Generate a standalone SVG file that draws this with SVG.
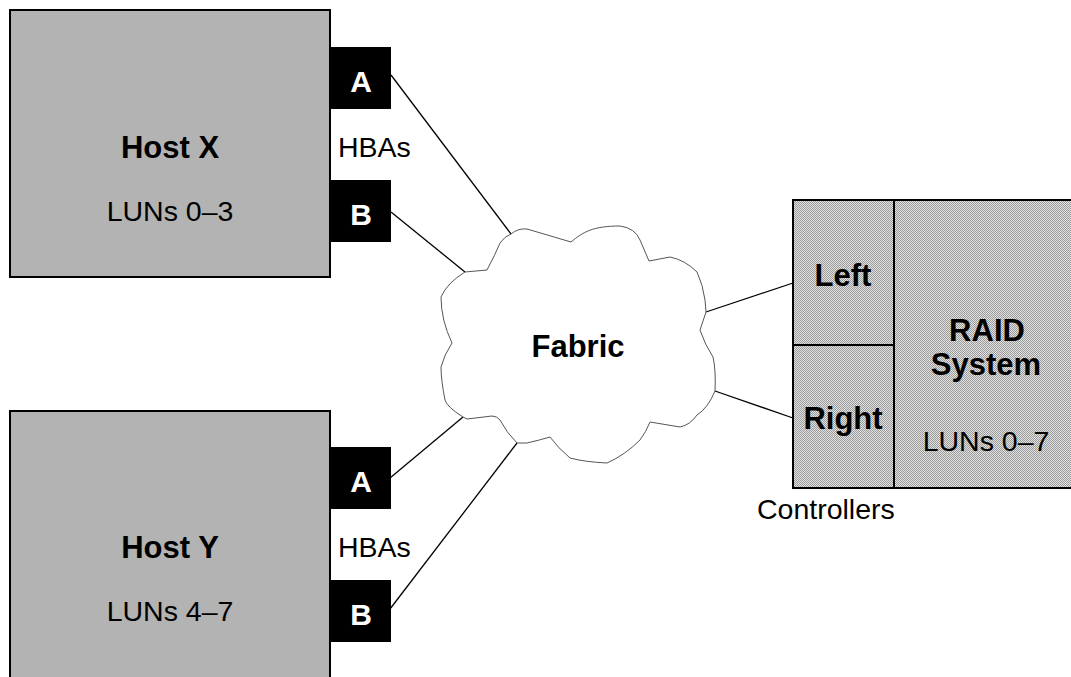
<svg xmlns="http://www.w3.org/2000/svg" width="1071" height="677" viewBox="0 0 1071 677">
<style>
.host{fill:#b3b3b3;stroke:#000;stroke-width:2}
.hba{fill:#000}
.raid{fill:url(#dither);stroke:#000;stroke-width:2}
.div{stroke:#000;stroke-width:2;fill:none}
.cloud{fill:#fff;stroke:#555;stroke-width:1}
.link{stroke:#000;stroke-width:1.3;fill:none}
text{font-family:"Liberation Sans",Arial,sans-serif;text-anchor:middle}
.b{font-weight:bold;font-size:31px;fill:#000}
.r{font-size:28.5px;fill:#000}
.w{font-weight:bold;font-size:30px;fill:#fff}
.l{font-size:28.5px;fill:#000;text-anchor:start}
</style>
<defs>
<pattern id="dither" width="2" height="2" patternUnits="userSpaceOnUse">
<rect width="2" height="2" fill="#e2e2e2"/>
<rect width="1" height="1" fill="#9a9a9a"/>
<rect x="1" y="1" width="1" height="1" fill="#9a9a9a"/>
</pattern>
</defs>
<rect width="1071" height="677" fill="#fff"/>
<g id="connectors">
<line class="link" x1="391" y1="75" x2="511" y2="234"/>
<line class="link" x1="391" y1="212" x2="465" y2="272"/>
<line class="link" x1="390" y1="478" x2="463" y2="417"/>
<line class="link" x1="390" y1="609" x2="517" y2="443"/>
<line class="link" x1="706" y1="312" x2="793" y2="283"/>
<line class="link" x1="715" y1="391" x2="793" y2="418"/>
</g>
<g id="hostX">
<rect class="host" x="10" y="10" width="320" height="267"/>
<text class="b" x="170" y="158">Host X</text>
<text class="r" x="170" y="221">LUNs 0–3</text>
</g>
<g id="hostX-hbaA">
<rect class="hba" x="330" y="47" width="61" height="62"/>
<text class="w" x="361" y="92">A</text>
</g>
<g id="hostX-hbaB">
<rect class="hba" x="330" y="180" width="61" height="62"/>
<text class="w" x="361" y="225">B</text>
</g>
<text class="l" x="338" y="157">HBAs</text>
<g id="hostY">
<rect class="host" x="10" y="411" width="320" height="290"/>
<text class="b" x="170" y="558">Host Y</text>
<text class="r" x="170" y="621">LUNs 4–7</text>
</g>
<g id="hostY-hbaA">
<rect class="hba" x="330" y="447" width="61" height="62"/>
<text class="w" x="361" y="492">A</text>
</g>
<g id="hostY-hbaB">
<rect class="hba" x="330" y="580" width="61" height="62"/>
<text class="w" x="361" y="625">B</text>
</g>
<text class="l" x="338" y="557">HBAs</text>
<g id="fabric">
<path class="cloud" d="M465,272 L487,270 Q495,255 500,243 Q505,236 511,234 Q518,228 527,229 L571,242 C583,232 593,226 620,226 Q635,228 640,240 L649,261 L670,257 Q685,260 697,272 Q703,285 705,300 L706,312 L700,330 Q705,345 713,357 Q716,370 715,391 Q708,408 697,415 Q690,425 680,427 L650,422 Q646,432 640,440 Q625,455 607,463 Q585,462 570,458 Q558,448 550,437 Q540,440 527,443 L517,443 Q506,432 500,420 Q497,416 492,416 L467,419 L463,417 Q447,407 445,400 Q441,380 441,367 Q444,355 452,343 Q441,320 441,297 Q447,283 465,272 Z"/>
<text class="b" x="578" y="357">Fabric</text>
</g>
<g id="raid">
<rect class="raid" x="793" y="200" width="290" height="288"/>
<line class="div" x1="894" y1="200" x2="894" y2="488"/>
<text class="b" x="987" y="341">RAID</text>
<text class="b" x="986" y="375">System</text>
<text class="r" x="986" y="451">LUNs 0–7</text>
</g>
<g id="ctrl-left">
<line class="div" x1="793" y1="345" x2="894" y2="345"/>
<text class="b" x="843" y="286">Left</text>
</g>
<g id="ctrl-right">
<text class="b" x="843" y="429">Right</text>
</g>
<text class="l" x="757" y="519">Controllers</text>
</svg>
